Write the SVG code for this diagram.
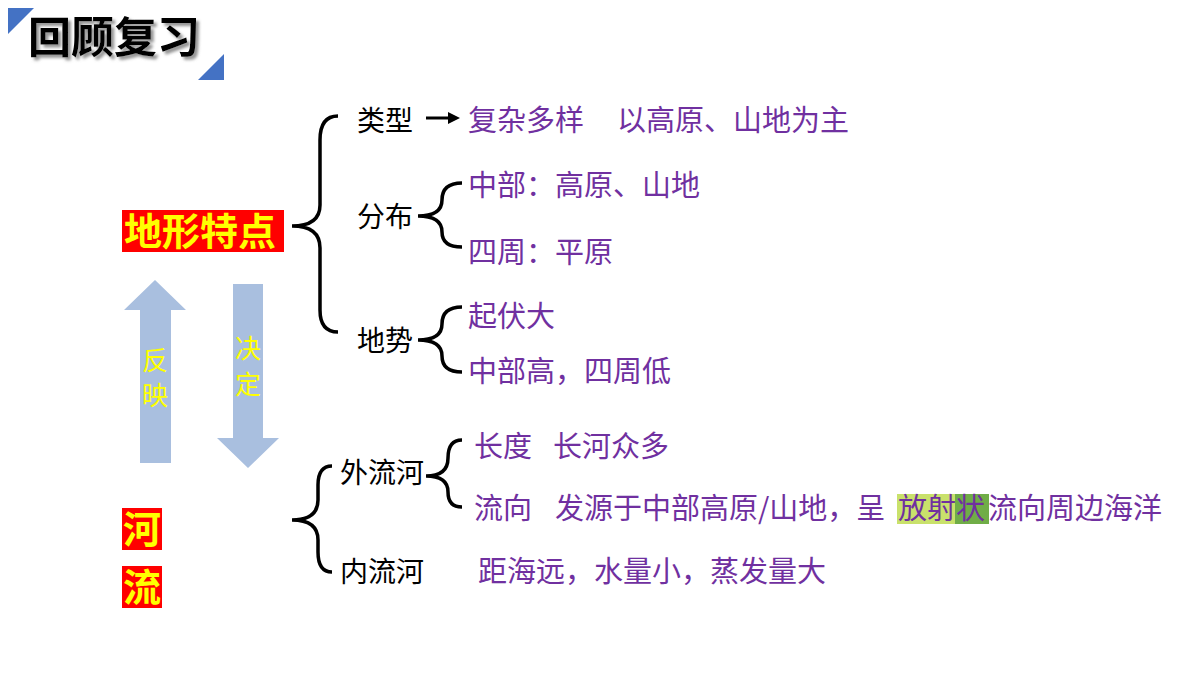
<svg xmlns="http://www.w3.org/2000/svg" width="1200" height="675" viewBox="0 0 1200 675">
<defs><filter id="sh" x="-10%" y="-20%" width="130%" height="150%"><feDropShadow dx="3" dy="3" stdDeviation="1.5" flood-color="#777" flood-opacity="0.8"/></filter></defs>
<style>
text{font-family:"Noto Sans CJK SC","Noto Sans",sans-serif}
.k{font-size:28px;fill:#000}
.p{font-size:29px;fill:#7030A0}
.br{fill:none;stroke:#000;stroke-width:3.5}
.hl{font-size:38px;font-weight:bold;fill:#FFFF00}
.ar{fill:#A9BFDF}
.at{font-size:26px;fill:#FFFF00}
</style>
<rect width="1200" height="675" fill="#fff"/>
<g id="title">
<polygon points="8,8 34,8 8,34" fill="#4472C4"/>
<polygon points="224,54 224,80 198,80" fill="#4472C4"/>
<text x="28" y="53" font-size="43" font-weight="bold" fill="#000" filter="url(#sh)">回顾复习</text>
</g>
<g id="dixing"><rect x="122" y="210" width="162" height="42" fill="#FF0000"/><text class="hl" x="124" y="245">地形特点</text></g>
<g id="he"><rect x="122" y="508" width="40" height="42" fill="#FF0000"/><text class="hl" x="123" y="543">河</text></g>
<g id="liu"><rect x="122" y="566" width="40" height="42" fill="#FF0000"/><text class="hl" x="123" y="601">流</text></g>
<g id="fanying"><polygon class="ar" points="155,280 186,310 171,310 171,463 140,463 140,310 124,310"/><text class="at" x="142" y="370">反</text><text class="at" x="142" y="405">映</text></g>
<g id="jueding"><polygon class="ar" points="233,284 263,284 263,438 279,438 248,468 217,438 233,438"/><text class="at" x="235" y="358">决</text><text class="at" x="235" y="394">定</text></g>
<g id="connectors">
<path class="br" d="M338,116 Q320,116 320,140 L320,205 Q320,226 292,226 Q320,226 320,248 L320,310 Q320,332 338,332"/>
<path class="br" d="M462,183 Q442,183 442,200 Q442,216 418,216 Q442,216 442,232 Q442,247 462,247"/>
<path class="br" d="M462,307 Q442,307 442,324 Q442,340 418,340 Q442,340 442,356 Q442,372 462,372"/>
<path class="br" d="M332,466 Q318,466 318,485 L318,500 Q318,520 292,520 Q318,520 318,540 L318,552 Q318,572 332,572"/>
<path class="br" d="M462,440 Q448,440 448,458 Q448,476 426,476 Q448,476 448,492 Q448,507 462,507"/>
<line x1="426" y1="118" x2="450" y2="118" stroke="#000" stroke-width="3"/>
<polygon points="460,118 448,112 448,124" fill="#000"/>
</g>
<g id="leixing"><text class="k" x="357" y="131">类型</text><text class="p" x="468" y="131">复杂多样</text><text class="p" x="617" y="131">以高原、山地为主</text></g>
<g id="fenbu"><text class="k" x="357" y="227">分布</text><text class="p" x="468" y="196">中部：高原、山地</text><text class="p" x="468" y="263">四周：平原</text></g>
<g id="dishi"><text class="k" x="357" y="351">地势</text><text class="p" x="468" y="327">起伏大</text><text class="p" x="468" y="382">中部高，四周低</text></g>
<g id="wailiu"><text class="k" x="340" y="483">外流河</text><text class="p" x="474" y="457">长度</text><text class="p" x="553" y="457">长河众多</text>
<rect x="897" y="494" width="92" height="30" fill="#70AD47"/>
<rect x="897" y="494" width="58" height="30" fill="#C9E16B"/>
<text class="p" x="474" y="519">流向</text><text class="p" x="555" y="519">发源于中部高原/山地，呈</text><text class="p" x="898" y="519">放射状</text><text class="p" x="988" y="519">流向周边海洋</text></g>
<g id="neiliu"><text class="k" x="340" y="582">内流河</text><text class="p" x="478" y="582">距海远，水量小，蒸发量大</text></g>
</svg>
